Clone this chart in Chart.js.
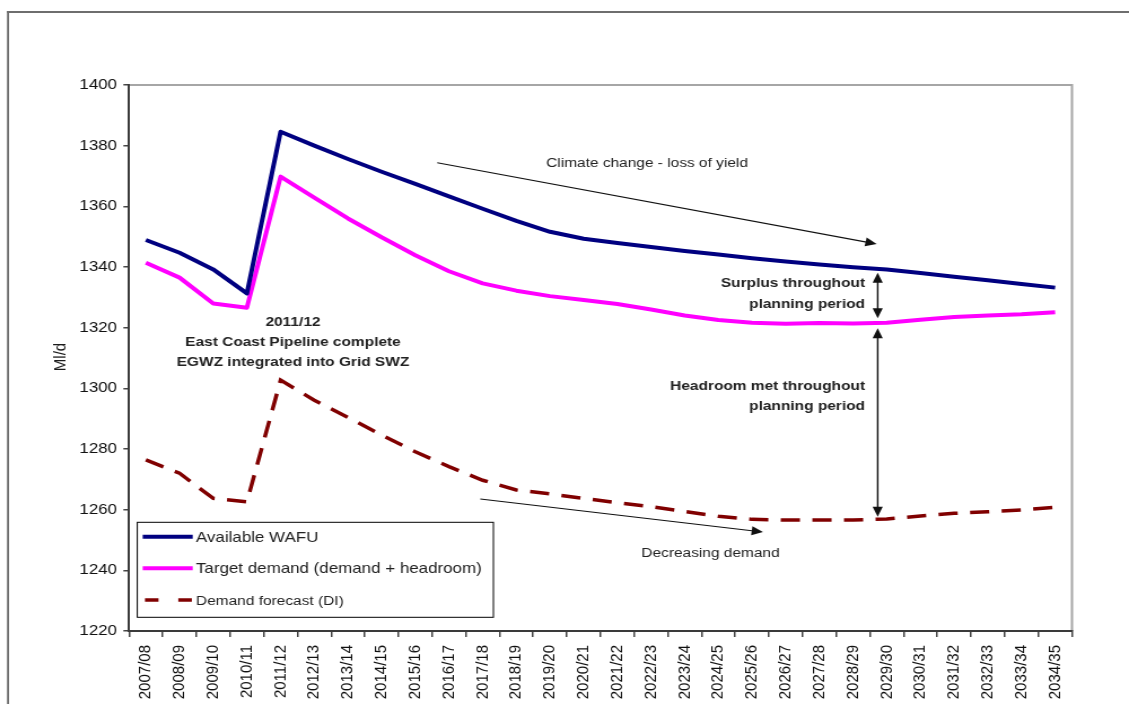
<!DOCTYPE html>
<html>
<head>
<meta charset="utf-8">
<script src="https://cdn.jsdelivr.net/npm/chart.js@4"></script>
<style>
  html,body{margin:0;padding:0;background:#fff;overflow:hidden;}
  /* the source picture is a chart stretched sideways: the bitmap is 1000 wide, shown 1129 wide */
  canvas{display:block;}
</style>
</head>
<body>
<canvas id="chart" width="1000" height="704" style="width:1129px;height:704px"></canvas>
<script>
const categories = ['2007/08','2008/09','2009/10','2010/11','2011/12','2012/13','2013/14','2014/15',
  '2015/16','2016/17','2017/18','2018/19','2019/20','2020/21','2021/22','2022/23','2023/24',
  '2024/25','2025/26','2026/27','2027/28','2028/29','2029/30','2030/31','2031/32','2032/33',
  '2033/34','2034/35'];
const availableWafu = [1348.9,1344.7,1339.2,1331.3,1384.6,1380.0,1375.6,1371.4,1367.4,1363.3,
  1359.2,1355.2,1351.6,1349.3,1347.9,1346.6,1345.3,1344.1,1342.9,1341.8,1340.8,1339.9,1339.2,
  1338.0,1336.8,1335.6,1334.4,1333.2];
const targetDemand = [1341.4,1336.5,1328.0,1326.6,1369.8,1362.9,1356.0,1349.8,1343.9,1338.6,
  1334.6,1332.2,1330.4,1329.1,1327.8,1326.0,1324.0,1322.5,1321.6,1321.3,1321.5,1321.4,1321.6,
  1322.6,1323.5,1324.0,1324.4,1325.1];
const demandForecast = [1276.4,1272.0,1263.7,1262.6,1302.7,1296.1,1290.4,1284.6,1279.1,1274.2,
  1269.7,1266.5,1265.2,1263.7,1262.3,1261.0,1259.4,1257.8,1256.8,1256.6,1256.6,1256.6,1256.9,
  1257.9,1258.8,1259.3,1259.9,1260.8];
const seriesLabels = ['Available WAFU','Target demand (demand + headroom)','Demand forecast (DI)'];
const yMin = 1220, yMax = 1400, yStep = 20;
const yTitle = 'Ml/d';

const FONT = '"Liberation Sans", Arial, sans-serif';

function arrowHead(ctx, x1, y1, x2, y2, len, half){
  const a = Math.atan2(y2 - y1, x2 - x1);
  const c = Math.cos(a), s = Math.sin(a);
  ctx.beginPath();
  ctx.moveTo(x2, y2);
  ctx.lineTo(x2 - len*c + half*s, y2 - len*s - half*c);
  ctx.lineTo(x2 - len*c - half*s, y2 - len*s + half*c);
  ctx.closePath();
  ctx.fill();
}
function arrow(ctx, x1, y1, x2, y2, both){
  const len = 10, half = 4.5;
  const a = Math.atan2(y2 - y1, x2 - x1);
  ctx.beginPath();
  ctx.moveTo(both ? x1 + Math.cos(a)*len*0.8 : x1, both ? y1 + Math.sin(a)*len*0.8 : y1);
  ctx.lineTo(x2 - Math.cos(a)*len*0.8, y2 - Math.sin(a)*len*0.8);
  ctx.stroke();
  arrowHead(ctx, x1, y1, x2, y2, len, half);
  if (both) arrowHead(ctx, x2, y2, x1, y1, len, half);
}

const decor = {
  id: 'decor',
  beforeDraw(chart){
    const ctx = chart.ctx;
    ctx.save();
    ctx.fillStyle = '#fff';
    ctx.fillRect(0, 0, chart.width, chart.height);
    // outer frame, only its left and top edges are in view
    ctx.fillStyle = '#6e6e6e';
    ctx.fillRect(6.2, 11, 1.8, 704);
    ctx.fillRect(6.2, 11, 994, 2);
    // top and right edges of the plot area
    const a = chart.chartArea;
    ctx.strokeStyle = '#a6a6a6';
    ctx.lineWidth = 2;
    ctx.beginPath();
    ctx.moveTo(a.left, a.top); ctx.lineTo(a.right, a.top); ctx.lineTo(a.right, a.bottom);
    ctx.stroke();
    ctx.restore();
  },
  afterDraw(chart){
    const ctx = chart.ctx;
    ctx.save();
    ctx.fillStyle = '#1a1a1a';
    ctx.strokeStyle = '#111';

    // y title
    ctx.save();
    ctx.translate(53.6, 357);
    ctx.rotate(-Math.PI/2);
    ctx.font = '15px ' + FONT;
    ctx.textAlign = 'center'; ctx.textBaseline = 'middle';
    ctx.fillText(yTitle, 0, 0);
    ctx.restore();

    // arrows
    ctx.lineWidth = 1.1;
    ctx.fillStyle = '#111';
    arrow(ctx, 387.3, 162.7, 776.5, 244, false);
    arrow(ctx, 425.4, 499, 675.8, 532, false);
    ctx.lineWidth = 1.4;
    arrow(ctx, 777.4, 272.7, 777.4, 318.3, true);
    arrow(ctx, 777.4, 328.3, 777.4, 516.7, true);

    // plain notes
    ctx.fillStyle = '#222';
    ctx.font = '13.7px ' + FONT;
    ctx.textAlign = 'center'; ctx.textBaseline = 'middle';
    ctx.fillText('Climate change - loss of yield', 573.1, 163);
    ctx.fillText('Decreasing demand', 629.3, 553);

    // bold notes
    ctx.font = 'bold 13.7px ' + FONT;
    ctx.fillText('2011/12', 259.5, 322);
    ctx.fillText('East Coast Pipeline complete', 259.5, 342);
    ctx.fillText('EGWZ integrated into Grid SWZ', 259.5, 362.5);
    ctx.textAlign = 'right';
    ctx.fillText('Surplus throughout', 766.2, 283.5);
    ctx.fillText('planning period', 766.2, 304);
    ctx.fillText('Headroom met throughout', 766.2, 386.5);
    ctx.fillText('planning period', 766.2, 406.5);

    // legend box
    ctx.fillStyle = '#fff';
    ctx.fillRect(121.6, 522.3, 315.4, 95);
    ctx.strokeStyle = '#000';
    ctx.lineWidth = 1;
    ctx.strokeRect(121.6, 522.3, 315.4, 95);
    const rows = [536.7, 568.3, 600];
    const sizes = [15, 15, 13.7];
    chart.data.datasets.forEach((ds, i) => {
      ctx.strokeStyle = ds.borderColor;
      ctx.lineWidth = ds.borderWidth;
      if (ds.borderDash) { ctx.setLineDash([12, 17.5]); } else { ctx.setLineDash([]); }
      ctx.beginPath();
      ctx.moveTo(ds.borderDash ? 128.4 : 126.4, rows[i]);
      ctx.lineTo(170.7, rows[i]);
      ctx.stroke();
      ctx.setLineDash([]);
      ctx.fillStyle = '#222';
      ctx.font = sizes[i] + 'px ' + FONT;
      ctx.textAlign = 'left'; ctx.textBaseline = 'middle';
      ctx.fillText(ds.label, 173.6, rows[i] + 1);
    });
    ctx.restore();
  }
};

new Chart(document.getElementById('chart').getContext('2d'), {
  type: 'line',
  data: {
    labels: categories,
    datasets: [
      { label: seriesLabels[0], data: availableWafu, borderColor: '#000080', borderWidth: 4,
        pointRadius: 0, tension: 0, borderJoinStyle: 'round' },
      { label: seriesLabels[1], data: targetDemand, borderColor: '#ff00ff', borderWidth: 4,
        pointRadius: 0, tension: 0, borderJoinStyle: 'round' },
      { label: seriesLabels[2], data: demandForecast, borderColor: '#800000', borderWidth: 3.5,
        borderDash: [17, 11], pointRadius: 0, tension: 0 }
    ]
  },
  options: {
    responsive: false,
    animation: false,
    devicePixelRatio: 1,
    layout: { padding: { top: 85, right: 50.5, left: 0, bottom: 0 } },
    plugins: { legend: { display: false }, tooltip: { enabled: false } },
    scales: {
      x: {
        offset: true,
        afterFit(scale){ scale.height = 73; },
        grid: { drawOnChartArea: false, offset: true, tickLength: 6, color: '#444', lineWidth: 1.5 },
        border: { display: true, color: '#3a3a3a', width: 2 },
        ticks: { autoSkip: false, minRotation: 90, maxRotation: 90, padding: 8,
          color: '#111', font: { family: FONT, size: 15 } }
      },
      y: {
        min: yMin, max: yMax,
        afterFit(scale){ scale.width = 114.3; },
        grid: { drawOnChartArea: false, tickLength: 5, color: '#444', lineWidth: 1.5 },
        border: { display: true, color: '#3a3a3a', width: 2 },
        ticks: { stepSize: yStep, padding: 5.6, color: '#111', font: { family: FONT, size: 15 },
          callback: v => String(v) }
      }
    }
  },
  plugins: [decor]
});
</script>
</body>
</html>
